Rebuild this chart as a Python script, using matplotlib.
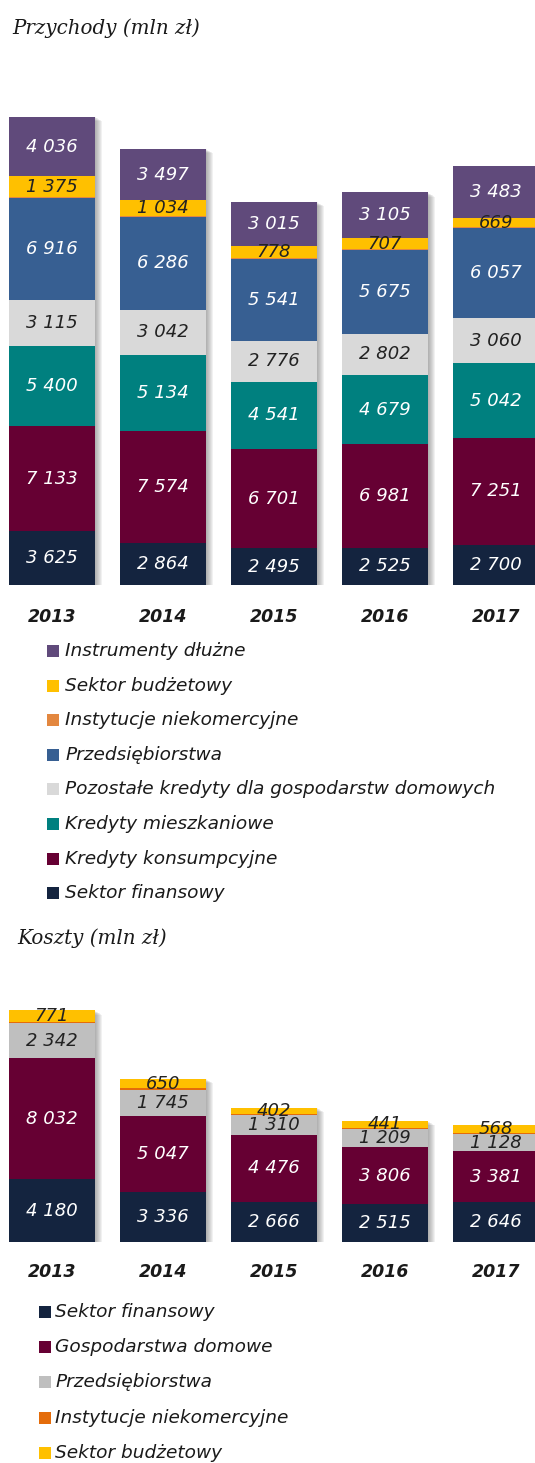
import numpy as np
import matplotlib
matplotlib.use("Agg")
import matplotlib.pyplot as plt
from matplotlib.patches import Rectangle

W, H = 535, 1463

years = ["2013", "2014", "2015", "2016", "2017"]

# Przychody (mln zl) - stacked from bottom to top
rev_names = ["Sektor finansowy", "Kredyty konsumpcyjne", "Kredyty mieszkaniowe",
             "Pozostałe kredyty dla gospodarstw domowych", "Przedsiębiorstwa",
             "Instytucje niekomercyjne", "Sektor budżetowy", "Instrumenty dłużne"]
rev_fin = [3625, 2864, 2495, 2525, 2700]
rev_kons = [7133, 7574, 6701, 6981, 7251]
rev_mieszk = [5400, 5134, 4541, 4679, 5042]
rev_pozost = [3115, 3042, 2776, 2802, 3060]
rev_przeds = [6916, 6286, 5541, 5675, 6057]
rev_niekom = [60, 60, 60, 60, 60]          # thin, unlabelled band
rev_budzet = [1375, 1034, 778, 707, 669]
rev_instr = [4036, 3497, 3015, 3105, 3483]
rev_colors = ["#14243F", "#660033", "#00807F", "#D9D9D9", "#375F92",
              "#E3873F", "#FFC000", "#604A7B"]
rev_txt = ["white", "white", "white", "#222222", "white", None, "#222222", "white"]
rev_legend_order = [7, 6, 5, 4, 3, 2, 1, 0]

# Koszty (mln zl)
cost_names = ["Sektor finansowy", "Gospodarstwa domowe", "Przedsiębiorstwa",
              "Instytucje niekomercyjne", "Sektor budżetowy"]
cost_fin = [4180, 3336, 2666, 2515, 2646]
cost_gosp = [8032, 5047, 4476, 3806, 3381]
cost_przeds = [2342, 1745, 1310, 1209, 1128]
cost_niekom = [80, 80, 80, 80, 80]         # thin, unlabelled band
cost_budzet = [771, 650, 402, 441, 568]
cost_colors = ["#14243F", "#660033", "#BFBFBF", "#E46C0A", "#FFC000"]
cost_txt = ["white", "white", "#222222", None, "#222222"]
cost_legend_order = [0, 1, 2, 3, 4]

STEP_PX = 111
BAR_PX = 86
FIRST_PX = 52


def fmt(v):
    return "{:,}".format(v).replace(",", " ")


def fx(x):
    return x / W


def fy(y):
    return 1 - y / H


def stacked(ax, series, colors, txtcols, vpp):
    x = np.arange(len(years))
    width = BAR_PX / STEP_PX
    dx = 1 / STEP_PX
    totals = np.sum(series, axis=0)
    # soft drop shadow
    for k in range(1, 8):
        ax.bar(x + k * 1.0 * dx, totals, width=width, bottom=-k * 0.6 * vpp,
               color="#666666", alpha=0.09, linewidth=0, zorder=1)
    bottom = np.zeros(len(years))
    for vals, col, tc in zip(series, colors, txtcols):
        vals = np.array(vals)
        ax.bar(x, vals, width=width, bottom=bottom, color=col, linewidth=0, zorder=2)
        if tc is not None:
            for xi, b, v in zip(x, bottom, vals):
                ax.text(xi, b + v / 2, fmt(v), ha="center", va="center",
                        color=tc, fontsize=13, style="italic", zorder=3)
        bottom = bottom + vals
    ax.set_xlim(-FIRST_PX / STEP_PX, (W - FIRST_PX) / STEP_PX)
    ax.axis("off")


fig = plt.figure(figsize=(W / 100, H / 100), dpi=100)

# top chart
top_base, top_top, top_vpp = 585, 90, 67.6
ax1 = fig.add_axes([0, fy(top_base), 1, (top_base - top_top) / H])
stacked(ax1, [rev_fin, rev_kons, rev_mieszk, rev_pozost, rev_przeds,
              rev_niekom, rev_budzet, rev_instr], rev_colors, rev_txt, top_vpp)
ax1.set_ylim(0, (top_base - top_top) * top_vpp)

# bottom chart
bot_base, bot_top, bot_vpp = 1242, 990, 66.5
ax2 = fig.add_axes([0, fy(bot_base), 1, (bot_base - bot_top) / H])
stacked(ax2, [cost_fin, cost_gosp, cost_przeds, cost_niekom, cost_budzet],
        cost_colors, cost_txt, bot_vpp)
ax2.set_ylim(0, (bot_base - bot_top) * bot_vpp)

# year labels
for i, yr in enumerate(years):
    cx = FIRST_PX + i * STEP_PX
    fig.text(fx(cx), fy(617), yr, ha="center", va="center", fontsize=12.5,
             style="italic", weight="bold", color="#1a1a1a")
    fig.text(fx(cx), fy(1272), yr, ha="center", va="center", fontsize=12.5,
             style="italic", weight="bold", color="#1a1a1a")

# titles
fig.text(fx(12), fy(28), "Przychody (mln zł)", ha="left", va="center",
         fontsize=14.3, family="DejaVu Serif", style="italic", color="#1a1a1a")
fig.text(fx(17), fy(938), "Koszty (mln zł)", ha="left", va="center",
         fontsize=14.3, family="DejaVu Serif", style="italic", color="#1a1a1a")


def legend(names, colors, order, x_sq, y0, step, x_txt):
    for j, idx in enumerate(order):
        yc = y0 + j * step
        fig.add_artist(Rectangle((fx(x_sq), fy(yc + 6)), 12 / W, 12 / H,
                                 transform=fig.transFigure, color=colors[idx], linewidth=0))
        fig.text(fx(x_txt), fy(yc), names[idx], ha="left", va="center",
                 fontsize=13.3, style="italic", color="#1a1a1a")


legend(rev_names, rev_colors, rev_legend_order, 47, 651, 34.6, 65)
legend(cost_names, cost_colors, cost_legend_order, 39, 1312, 35.2, 55)

fig.savefig("out.png", dpi=100)
